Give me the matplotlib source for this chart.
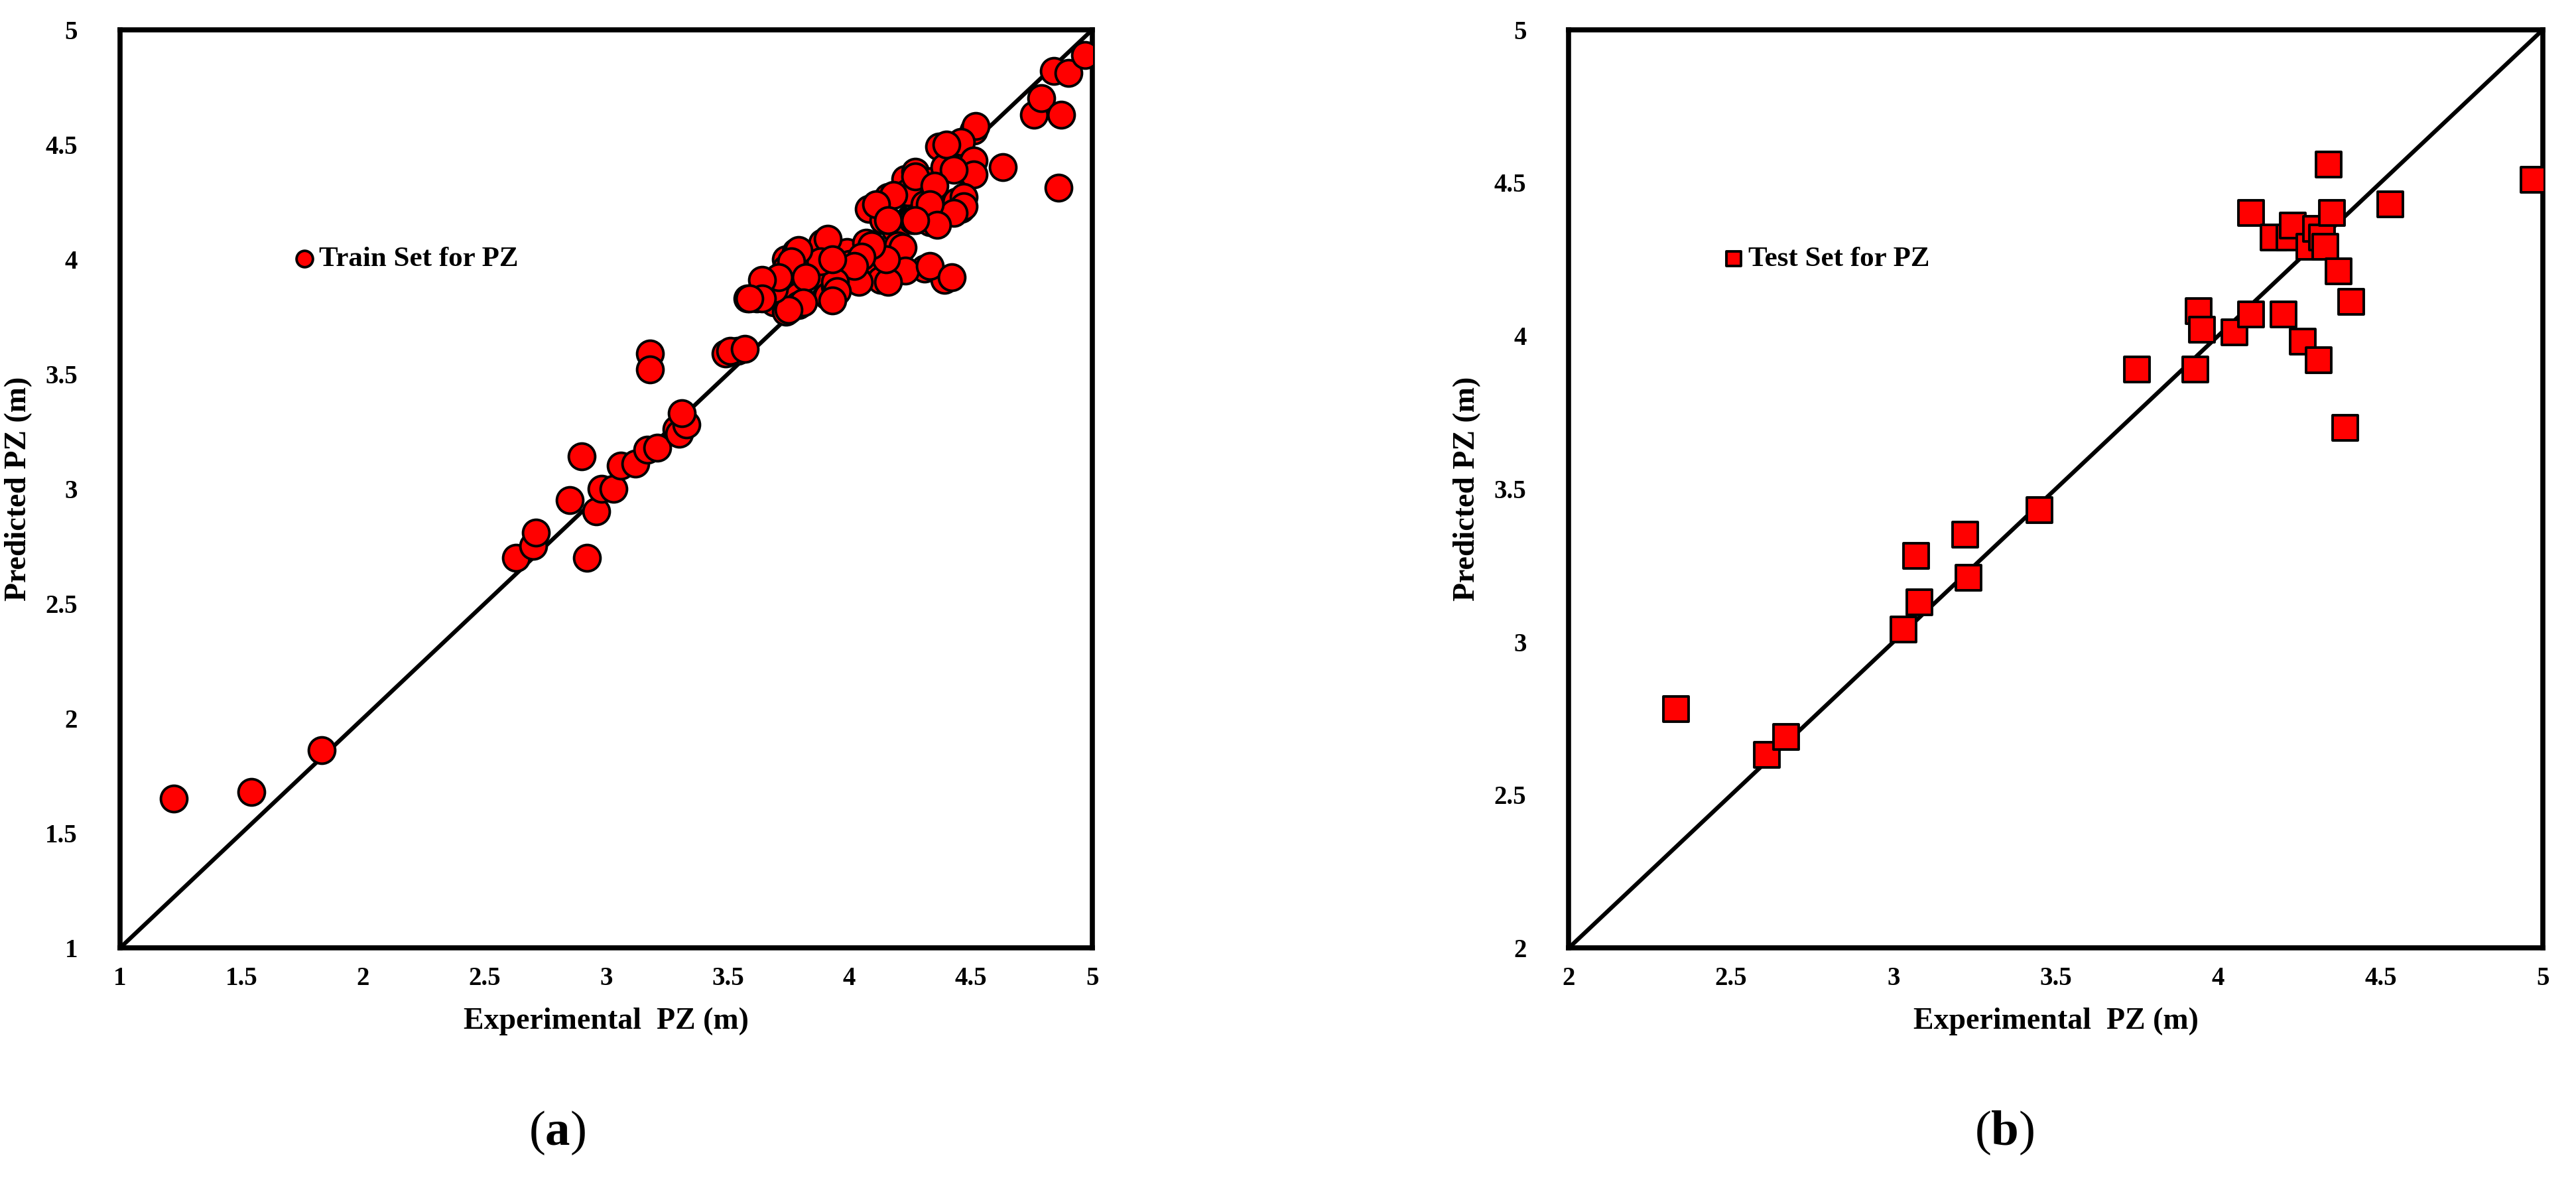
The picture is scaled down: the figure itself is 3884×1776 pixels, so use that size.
import numpy as np
import matplotlib
matplotlib.use('Agg')
import matplotlib.pyplot as plt

# training set: experimental vs predicted PZ (m)
train_exp = [1.22, 1.54, 1.83, 2.63, 2.70, 2.71, 2.92, 2.85, 2.90, 2.96, 2.98, 3.03,
             3.06, 3.12, 3.17, 3.21, 3.18, 3.18, 3.29, 3.30, 3.33, 3.31, 3.49, 3.54,
             3.58, 3.62, 3.64, 3.68, 3.69, 3.71, 3.74, 3.74, 3.78, 3.79, 3.79, 3.74,
             3.86, 3.89, 3.90, 3.91, 3.93, 3.94, 3.99, 4.00, 4.02, 4.06, 4.07, 4.08,
             4.11, 4.13, 4.14, 4.16, 4.19, 4.20, 4.21, 4.23, 4.24, 4.26, 4.27, 4.31,
             4.31, 4.33, 4.34, 4.37, 4.39, 4.39, 4.43, 4.44, 4.46, 4.49, 4.49, 4.51,
             4.52, 4.63, 4.76, 4.79, 4.84, 4.87, 4.86, 4.90, 4.97,
             4.46, 4.40, 4.51, 4.51, 4.43, 4.27, 4.35, 4.47, 4.47, 4.43, 4.33, 4.36,
             4.27, 4.18, 4.11, 4.16, 4.22, 4.23, 4.33, 4.42, 4.16, 4.15, 4.09, 4.05,
             4.04, 4.02, 3.94, 3.95, 3.93, 3.91, 3.88, 3.93, 3.79, 3.76, 3.82, 3.81,
             3.75, 3.69, 3.71, 3.64, 3.64, 3.59, 3.51, 3.57]
train_pred = [1.65, 1.68, 1.86, 2.70, 2.75, 2.81, 2.70, 2.95, 3.14, 2.90, 3.00, 3.00,
              3.10, 3.11, 3.17, 3.18, 3.59, 3.52, 3.26, 3.24, 3.28, 3.33, 3.59, 3.60,
              3.83, 3.83, 3.87, 3.85, 3.81, 3.90, 4.00, 3.96, 4.03, 3.84, 3.80, 3.77,
              3.97, 4.07, 3.91, 3.84, 3.99, 3.88, 4.03, 3.98, 3.91, 4.02, 4.07, 4.22,
              3.99, 3.91, 4.17, 4.27, 4.13, 4.06, 3.95, 4.35, 4.29, 4.17, 4.38, 3.96,
              4.24, 4.16, 4.34, 4.49, 4.40, 3.91, 4.49, 4.25, 4.22, 4.42, 4.38, 4.56,
              4.58, 4.40, 4.63, 4.70, 4.82, 4.63, 4.31, 4.81, 4.89,
              4.51, 4.50, 4.43, 4.37, 4.39, 4.36, 4.32, 4.27, 4.23, 4.20, 4.24, 4.15,
              4.17, 4.28, 4.24, 4.17, 4.05, 3.95, 3.97, 3.92, 3.90, 4.00, 4.06, 4.01,
              3.90, 3.97, 3.90, 3.86, 3.82, 4.09, 3.99, 4.00, 4.04, 3.99, 3.92, 3.81,
              3.78, 3.87, 3.92, 3.91, 3.83, 3.83, 3.60, 3.61]

# test set
test_exp = [2.33, 2.61, 2.67, 3.03, 3.08, 3.07, 3.22, 3.23, 3.45, 3.75, 3.93, 3.94,
            3.95, 4.05, 4.10, 4.10, 4.20, 4.17, 4.22, 4.23, 4.28, 4.30, 4.32, 4.33,
            4.26, 4.31, 4.34, 4.35, 4.37, 4.41, 4.39, 4.53, 4.97]
test_pred = [2.78, 2.63, 2.69, 3.04, 3.13, 3.28, 3.35, 3.21, 3.43, 3.89, 3.89, 4.08,
             4.02, 4.01, 4.07, 4.40, 4.07, 4.32, 4.32, 4.36, 4.29, 4.35, 4.32, 4.29,
             3.98, 3.92, 4.56, 4.40, 4.21, 4.11, 3.70, 4.43, 4.51]

x_ticks_a = [1, 1.5, 2, 2.5, 3, 3.5, 4, 4.5, 5]
x_ticks_b = [2, 2.5, 3, 3.5, 4, 4.5, 5]

font = 'Liberation Serif'
plt.rcParams['mathtext.fontset'] = 'custom'
plt.rcParams['mathtext.bf'] = 'Liberation Serif:bold'
plt.rcParams['mathtext.rm'] = 'Liberation Serif'

fig = plt.figure(figsize=(38.84, 17.76), dpi=100)
ax1 = fig.add_axes([0.0466, 0.1953, 0.3775, 0.7796])
ax2 = fig.add_axes([0.609, 0.1953, 0.3782, 0.7796])


def style(ax, lo, ticks):
    ax.set_xlim(lo, 5)
    ax.set_ylim(lo, 5)
    ax.plot([lo, 5], [lo, 5], color='black', lw=4.5, zorder=1)
    ax.set_xticks(ticks)
    ax.set_yticks(ticks)
    ax.set_xticklabels([f'{t:g}' for t in ticks])
    ax.set_yticklabels([f'{t:g}' for t in ticks])
    ax.tick_params(length=0, labelsize=28, pad=46, axis='y')
    ax.tick_params(length=0, labelsize=28, pad=20, axis='x')
    for lab in ax.get_xticklabels() + ax.get_yticklabels():
        lab.set_fontfamily(font)
        lab.set_fontweight('bold')
    for s in ax.spines.values():
        s.set_linewidth(5.5)
    ax.set_xlabel('Experimental  PZ (m)', fontsize=33, fontweight='bold',
                  fontfamily=font, labelpad=18)
    ax.set_ylabel('Predicted PZ (m)', fontsize=33, fontweight='bold',
                  fontfamily=font, labelpad=14)


ax1.scatter(train_exp, train_pred, s=820, c='#ff0000', edgecolors='black',
            linewidths=2.8, zorder=3, label='Train Set for PZ')
style(ax1, 1, x_ticks_a)
ax1.legend(loc='center left', bbox_to_anchor=(0.15, 0.75), frameon=False,
           markerscale=0.62, handletextpad=0.05, handlelength=0.9,
           prop={'family': font, 'weight': 'bold', 'size': 31})

ax2.scatter(test_exp, test_pred, s=760, marker='s', c='#ff0000', edgecolors='black',
            linewidths=2.8, zorder=3, label='Test Set for PZ')
style(ax2, 2, x_ticks_b)
ax2.legend(loc='center left', bbox_to_anchor=(0.13, 0.75), frameon=False,
           markerscale=0.55, handletextpad=0.05, handlelength=0.9,
           prop={'family': font, 'weight': 'bold', 'size': 31})

fig.text(0.2163, 0.038, r'($\mathbf{a}$)', fontsize=54, fontfamily=font,
         ha='center', va='center')
fig.text(0.778, 0.038, r'($\mathbf{b}$)', fontsize=54, fontfamily=font,
         ha='center', va='center')

fig.savefig('out.png', dpi=100, facecolor='white')
